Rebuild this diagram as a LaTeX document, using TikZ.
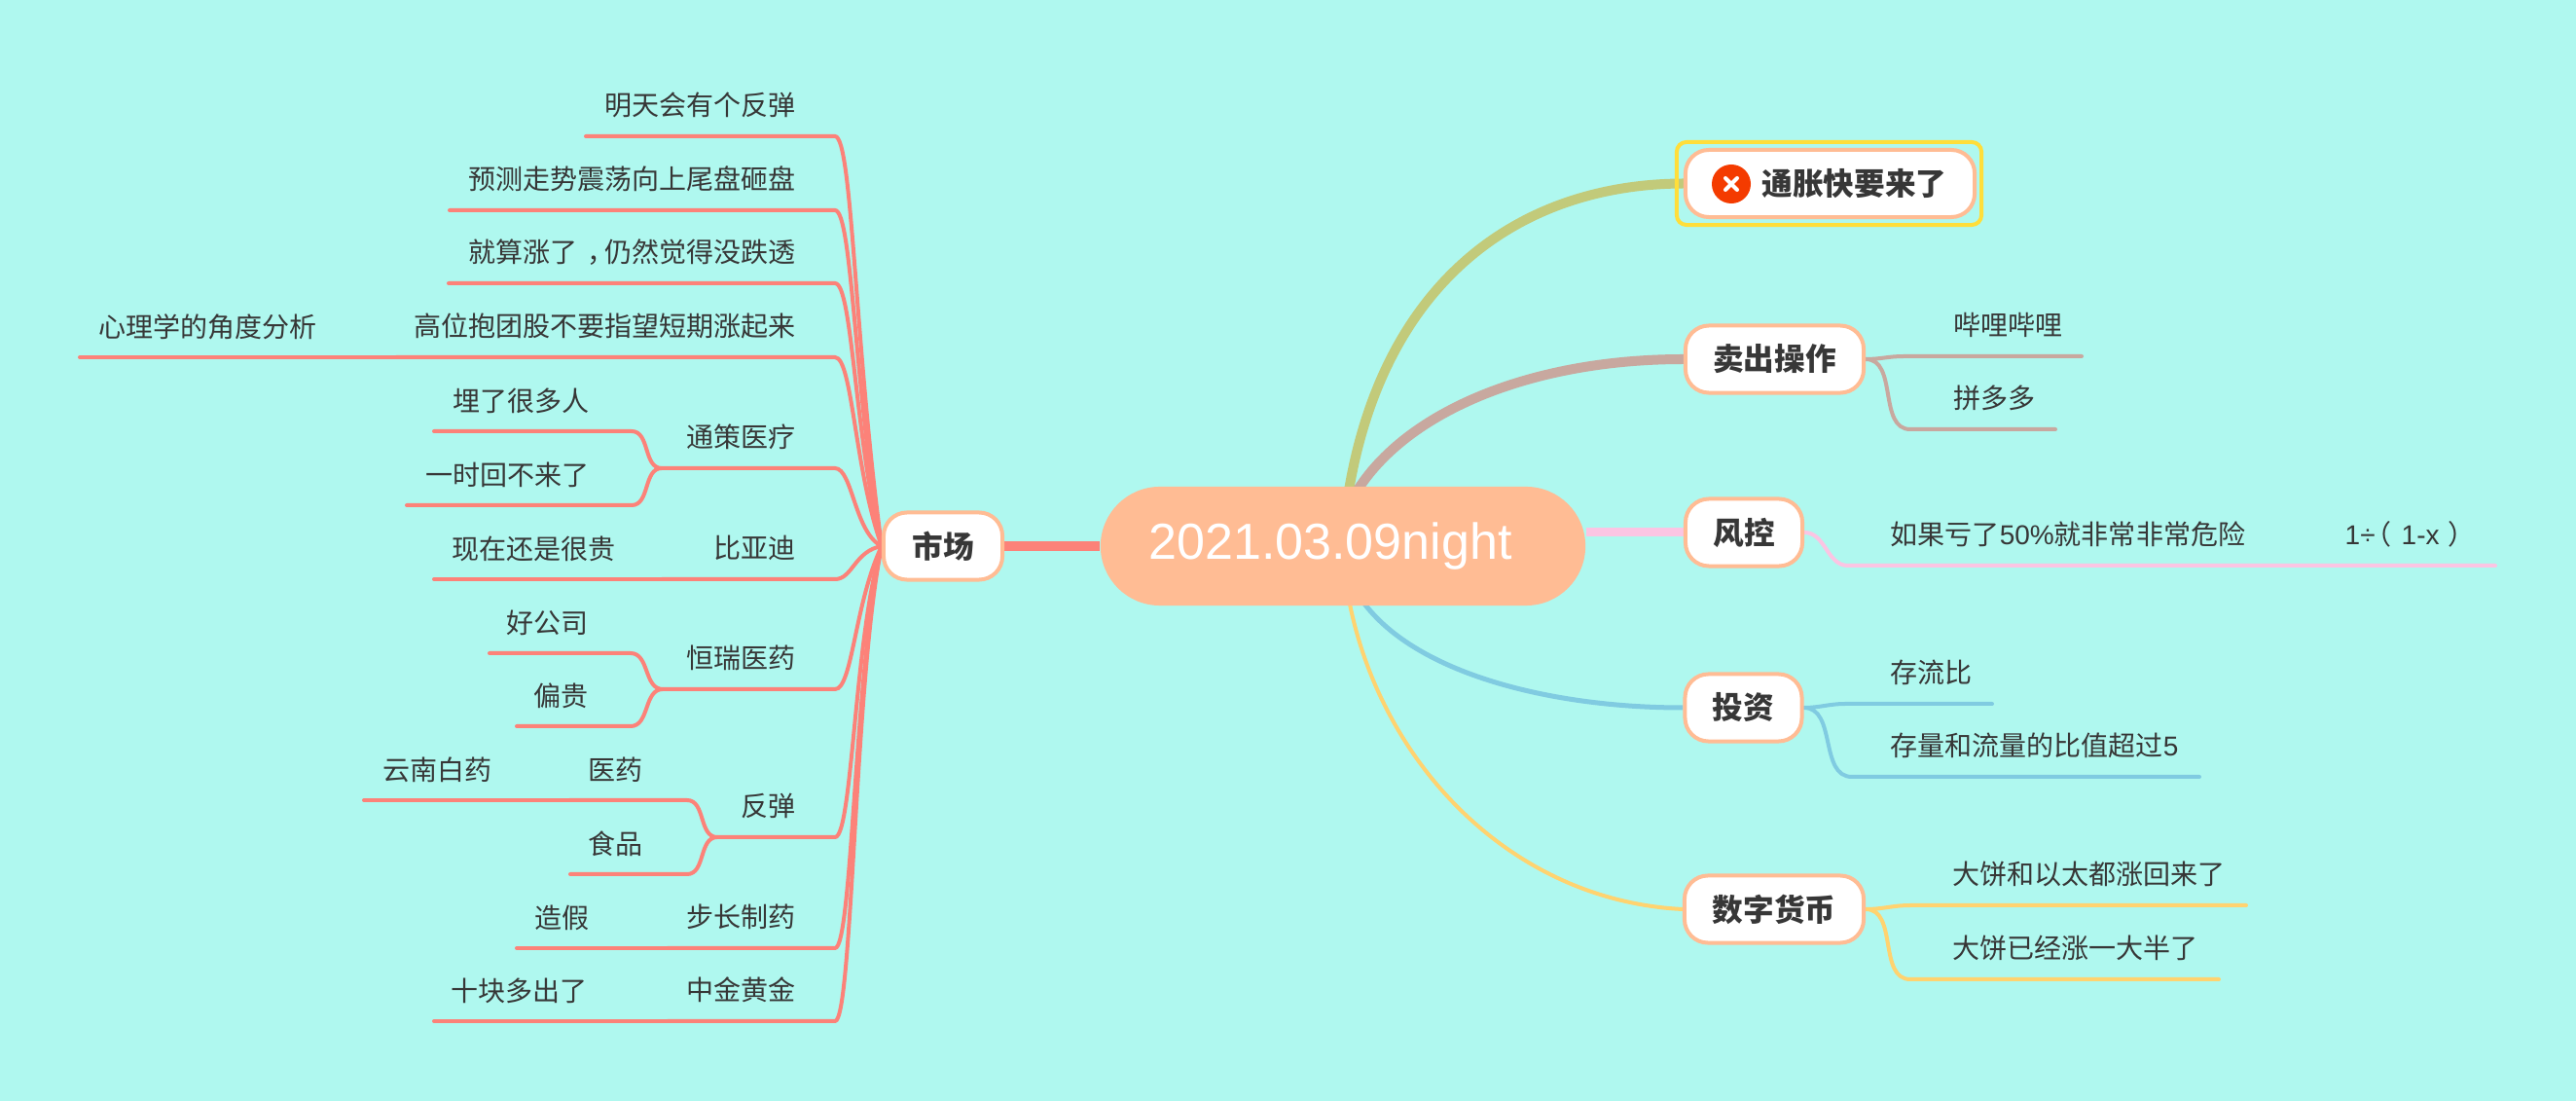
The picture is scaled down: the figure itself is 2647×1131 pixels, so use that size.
\documentclass[tikz,border=0pt]{standalone}
\usepackage{fontspec}
\usetikzlibrary{backgrounds,shapes.misc}
\setmainfont{Liberation Sans}
\newfontfamily\cjkfont{Noto Sans CJK SC}
\definecolor{bgcol}{HTML}{AFF8EF}
\definecolor{peach}{HTML}{FFBC94}
\definecolor{inkcol}{HTML}{373737}
\definecolor{redcol}{HTML}{FC8279}
\definecolor{olivecol}{HTML}{C2CA7A}
\definecolor{taupecol}{HTML}{C8A89F}
\definecolor{pinkcol}{HTML}{FBC5E3}
\definecolor{bluecol}{HTML}{80CBE1}
\definecolor{orangecol}{HTML}{FFD370}
\definecolor{selcol}{HTML}{FFDE3A}
\definecolor{iconcol}{HTML}{F43B00}
\newcommand{\lat}[1]{{\rmfamily #1}}
\tikzstyle{topic}=[draw=peach, line width=.4mm, fill=white, rounded corners=2.4mm, minimum height=6.9mm, inner sep=0pt, text=inkcol, font=\cjkfont\bfseries\fontsize{9}{11}\selectfont]
\tikzstyle{leaf}=[inner sep=0pt, text=inkcol, font=\cjkfont\fontsize{7.97}{10}\selectfont]
\tikzstyle{central}=[rounded rectangle, fill=peach, minimum width=49.8mm, minimum height=12.2mm, inner sep=0pt, text=white, font=\fontsize{14.8}{18}\selectfont]
\tikzstyle{selbox}=[draw=selcol, line width=.4mm, rounded corners=1mm, minimum width=31.3mm, minimum height=8.5mm]
\tikzstyle{redline}=[draw=redcol, line width=.4mm, line cap=round]
\tikzstyle{subline}=[line width=.4mm, line cap=round]

\begin{document}
\begin{tikzpicture}[x=0.01cm, y=-0.01cm]
  \path[use as bounding box] (0,0) rectangle (2647,1131);
  \begin{scope}[on background layer]
  \fill[bgcol] (0,0) rectangle (2647,1131);
  \end{scope}

  % centre and main topics
  \node[central] (root) at (1380,561) {\raisebox{-.3mm}{2021.03.09night}\hspace*{2.6mm}};
  \node[topic, minimum width=12.2mm] (mkt) at (969,561) {市场};
  \node[topic, minimum width=29.7mm] (infl) at (1880.5,188.5) {\hspace*{5mm}通胀快要来了};
  \node[selbox] (sel) at (1879.5,188.5) {};
  \node[circle, fill=iconcol, minimum size=4mm, inner sep=0pt] (iconx) at (1779,189) {};
  \draw[white, line width=.4mm, line cap=round] (iconx.center) ++(-6,-6) -- ++(12,12) ++(0,-12) -- ++(-12,12);
  \node[topic, minimum width=18.3mm] (sell) at (1823.5,369) {卖出操作};
  \node[topic, minimum width=12mm] (risk) at (1792,547) {风控};
  \node[topic, minimum width=12mm] (invest) at (1791.5,727) {投资};
  \node[topic, minimum width=18.4mm] (crypto) at (1823,934) {数字货币};

  % trunks leaving the centre
  \begin{scope}[on background layer]
  \draw[redcol, line width=1mm] (mkt.east) -- (root.west);
  \draw[olivecol, line width=1mm] (1385,510) .. controls (1420,290) and (1560,189) .. (infl.west);
  \draw[taupecol, line width=1mm] (1391,510) .. controls (1440,425) and (1570,369) .. (sell.west);
  \draw[pinkcol, line width=.9mm] (root.east |- risk) -- (risk.west);
  \draw[bluecol, line width=.5mm] (1395,610) .. controls (1445,690) and (1590,727) .. (invest.west);
  \draw[orangecol, line width=.4mm] (1385,610) .. controls (1415,780) and (1550,925) .. (crypto.west);
  \end{scope}

  % market, first level
  \foreach \nm/\y/\xe/\fr/\lbl in {a/140/602/.51/明天会有个反弹, b/216/462/.55/预测走势震荡向上尾盘砸盘,
      c/291/461/.58/就算涨了{\kern1mm，\kern-1mm}仍然觉得没跌透, d/367/407/.6/高位抱团股不要指望短期涨起来,
      e/481/680/.83/通策医疗, f/595/680/.85/比亚迪, g/708/681/.6/恒瑞医药,
      h/860/737/.7/反弹, i/974/686/.7/步长制药, j/1049/686/.72/中金黄金} {
    \node[leaf, anchor=east] (txt\nm) at (818.5,{\y-32}) {\lbl};
    \coordinate (end\nm) at (\xe,\y);
    \coordinate (bend\nm) at (858,\y);
    \begin{scope}[on background layer]
    \draw[redline] (mkt.west) .. controls (878,{\y+\fr*(561-\y)}) and (876,\y) .. (bend\nm) -- (end\nm);
    \end{scope}
  }

  % market, forked children
  \foreach \nm/\up/\y/\xb/\xe/\xt/\lbl in {ea/e/443/649/446/606/埋了很多人, eb/e/519/649/418/606/一时回不来了,
      ga/g/671/648/503/605/好公司, gb/g/746/648/531/605/偏贵,
      ha/h/822/706/585/661/医药, hb/h/898/706/586/661/食品} {
    \node[leaf, anchor=east] (txt\nm) at (\xt,{\y-31}) {\lbl};
    \coordinate (end\nm) at (\xe,\y);
    \coordinate (bend\nm) at (\xb,\y);
    \begin{scope}[on background layer]
    \draw[redline] (end\up) to [out=180, in=0] (bend\nm) -- (end\nm);
    \end{scope}
  }

  % market, single children
  \foreach \nm/\up/\y/\xe/\xt/\lbl in {da/d/367/82/326/心理学的角度分析, fa/f/595/446/633/现在还是很贵,
      haa/ha/822/374/506/云南白药, ia/i/974/531/606/造假, ja/j/1049/446/604/十块多出了} {
    \node[leaf, anchor=east] (txt\nm) at (\xt,{\y-31}) {\lbl};
    \coordinate (end\nm) at (\xe,\y);
    \begin{scope}[on background layer]
    \draw[redline] (end\up) -- (end\nm);
    \end{scope}
  }

  % right side children
  \foreach \nm/\up/\col/\y/\xb/\xe/\xt/\lbl in {sa/sell/taupecol/366/1956/2139/2007/哔哩哔哩, sb/sell/taupecol/441/1963/2112/2007/拼多多,
      ra/risk/pinkcol/581/1899/2564/1942/如果亏了\lat{50\%}就非常非常危险,
      va/invest/bluecol/723/1896/2047/1942/存流比, vb/invest/bluecol/798/1903/2260/1942/存量和流量的比值超过\lat{5},
      ca/crypto/orangecol/930/1963/2308/2006/大饼和以太都涨回来了, cb/crypto/orangecol/1006/1963/2280/2006/大饼已经涨一大半了} {
    \node[leaf, anchor=west] (txt\nm) at (\xt,{\y-32}) {\lbl};
    \coordinate (end\nm) at (\xe,\y);
    \coordinate (bend\nm) at (\xb,\y);
    \begin{scope}[on background layer]
    \draw[subline, draw=\col] (\up.east) to [out=0, in=180] (bend\nm) -- (end\nm);
    \end{scope}
  }
  \node[leaf, anchor=west] (txtrb) at (2409,549) {\lat{1÷}\kern-1.1mm（\kern1mm\lat{1-x}\kern.9mm）};

\end{tikzpicture}
\end{document}
